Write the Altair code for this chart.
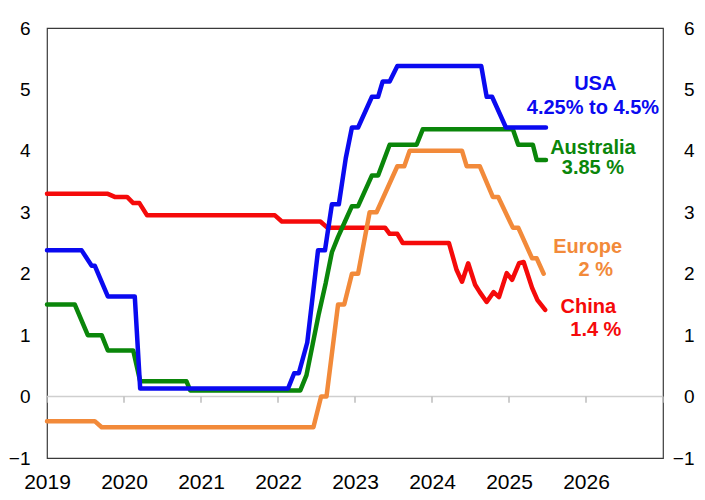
import altair as alt
import pandas as pd

# ---------------- data (decimal year, policy rate %) ----------------
usa_t = [2019.0, 2019.45, 2019.58, 2019.62, 2019.79, 2020.14, 2020.21, 2022.13, 2022.21,
         2022.27, 2022.38, 2022.52, 2022.61, 2022.70, 2022.79, 2022.88, 2022.96, 2023.04,
         2023.22, 2023.30, 2023.36, 2023.45, 2023.55, 2024.64, 2024.71, 2024.78, 2024.96, 2025.48]
usa_v = [2.38, 2.38, 2.13, 2.13, 1.63, 1.63, 0.13, 0.13, 0.38,
         0.38, 0.88, 2.38, 2.38, 3.13, 3.13, 3.88, 4.38, 4.38,
         4.88, 4.88, 5.13, 5.13, 5.38, 5.38, 4.88, 4.88, 4.38, 4.38]

aus_t = [2019.0, 2019.36, 2019.53, 2019.71, 2019.79, 2020.12, 2020.21, 2020.81, 2020.86,
         2022.29, 2022.37, 2022.45, 2022.53, 2022.62, 2022.70, 2022.78, 2022.87, 2022.96,
         2023.04, 2023.22, 2023.30, 2023.45, 2023.80, 2023.88, 2025.05, 2025.12, 2025.31,
         2025.36, 2025.48]
aus_v = [1.5, 1.5, 1.0, 1.0, 0.75, 0.75, 0.25, 0.25, 0.1,
         0.1, 0.35, 0.85, 1.35, 1.85, 2.35, 2.6, 2.85, 3.1,
         3.1, 3.6, 3.6, 4.1, 4.1, 4.35, 4.35, 4.1, 4.1,
         3.85, 3.85]

eur_t = [2019.0, 2019.62, 2019.71, 2022.46, 2022.56, 2022.63, 2022.78, 2022.86, 2022.96,
         2023.04, 2023.19, 2023.28, 2023.55, 2023.64, 2023.71, 2024.39, 2024.45, 2024.62,
         2024.79, 2024.86, 2025.05, 2025.12, 2025.30, 2025.36, 2025.45]
eur_v = [-0.4, -0.4, -0.5, -0.5, 0.0, 0.0, 1.5, 1.5, 2.0,
         2.0, 3.0, 3.0, 3.75, 3.75, 4.0, 4.0, 3.75, 3.75,
         3.25, 3.25, 2.75, 2.75, 2.25, 2.25, 2.0]

chn_t = [2019.0, 2019.79, 2019.88, 2020.04, 2020.12, 2020.20, 2020.30, 2021.96, 2022.05,
         2022.55, 2022.64, 2023.39, 2023.45, 2023.55, 2023.62, 2024.22, 2024.32, 2024.39,
         2024.47, 2024.56, 2024.62, 2024.71, 2024.80, 2024.87, 2024.97, 2025.04, 2025.13,
         2025.19, 2025.30, 2025.37, 2025.47]
chn_v = [3.3, 3.3, 3.25, 3.25, 3.15, 3.15, 2.95, 2.95, 2.85,
         2.85, 2.75, 2.75, 2.65, 2.65, 2.5, 2.5, 2.06, 1.87,
         2.17, 1.82, 1.70, 1.54, 1.70, 1.62, 2.01, 1.90, 2.17,
         2.19, 1.77, 1.57, 1.41]

series_names = ["China", "Europe", "Australia", "USA"]
series_colors = ["#f50a0a", "#f28a3a", "#0a860a", "#0a0af0"]

tick_years = [2019, 2020, 2021, 2022, 2023, 2024, 2025, 2026, 2027]
label_years = [2019, 2020, 2021, 2022, 2023, 2024, 2025, 2026]
y_ticks = [-1, 0, 1, 2, 3, 4, 5, 6]

ann_text = ["USA", "4.25% to 4.5%", "Australia", "3.85 %", "Europe", "2 %", "China", "1.4 %"]
ann_series = ["USA", "USA", "Australia", "Australia", "Europe", "Europe", "China", "China"]
ann_t = [2026.12, 2026.09, 2026.09, 2026.09, 2026.47, 2026.35, 2026.39, 2026.46]
ann_v = [5.09, 4.70, 4.05, 3.72, 2.43, 2.06, 1.46, 1.08]
ann_align = ["center", "center", "center", "center", "right", "right", "right", "right"]

# ---------------- build tables ----------------
rows = []
for name, ts, vs in [("USA", usa_t, usa_v), ("Australia", aus_t, aus_v),
                     ("Europe", eur_t, eur_v), ("China", chn_t, chn_v)]:
    for t, v in zip(ts, vs):
        rows.append({"series": name, "t": t, "v": v})
df = pd.DataFrame(rows)

ann_df = pd.DataFrame({"text": ann_text, "series": ann_series, "t": ann_t,
                       "v": ann_v, "align": ann_align})
ticks_df = pd.DataFrame({"t": tick_years, "v": [0] * len(tick_years),
                         "v2": [-0.1] * len(tick_years)})
zero_df = pd.DataFrame({"t": [2019], "t2": [2027], "v": [0]})

FONT = "Liberation Sans"
xscale = alt.Scale(domain=[2019, 2027], nice=False, zero=False)
yscale = alt.Scale(domain=[-1, 6], nice=False, zero=False)
cscale = alt.Scale(domain=series_names, range=series_colors)

x_axis = alt.Axis(values=label_years, format="d", title=None, domain=False, ticks=False,
                  grid=False, labelFontSize=21, labelPadding=13, labelFont=FONT,
                  labelColor="#000000", labelFlush=False, labelOverlap=False)
y_left = alt.Axis(values=y_ticks, title=None, domain=False, ticks=False, grid=False,
                  labelFontSize=19, labelPadding=17, labelFont=FONT, labelColor="#000000",
                  orient="left")
y_right = alt.Axis(values=y_ticks, title=None, domain=False, ticks=False, grid=False,
                   labelFontSize=19, labelPadding=31, labelFont=FONT, labelColor="#000000",
                   orient="right", labelAlign="right")

X = alt.X("t:Q", scale=xscale, axis=x_axis)

base = alt.Chart(df)
line_layers = []
for name in series_names:
    line_layers.append(
        base.transform_filter(alt.datum.series == name)
        .mark_line(strokeWidth=4.5, strokeJoin="round", strokeCap="round")
        .encode(
            x=X,
            y=alt.Y("v:Q", scale=yscale, axis=y_left),
            color=alt.Color("series:N", scale=cscale, legend=None),
        )
    )
lines = alt.layer(*line_layers)

zero_line = alt.Chart(zero_df).mark_rule(color="#cfcfcf", strokeWidth=1.5).encode(
    x=X,
    x2="t2:Q",
    y=alt.Y("v:Q", scale=yscale, axis=y_right),
)

ticks = alt.Chart(ticks_df).mark_rule(color="#bdbdbd", strokeWidth=1.5).encode(
    x=X,
    y=alt.Y("v:Q", scale=yscale, axis=None),
    y2="v2:Q",
)

text_layers = []
for al in ["center", "right"]:
    text_layers.append(
        alt.Chart(ann_df).transform_filter(alt.datum.align == al)
        .mark_text(font=FONT, fontSize=20, fontWeight="bold", align=al, baseline="middle")
        .encode(
            x=X,
            y=alt.Y("v:Q", scale=yscale, axis=None),
            text="text:N",
            color=alt.Color("series:N", scale=cscale, legend=None),
        )
    )

chart = alt.layer(zero_line, ticks, lines, *text_layers).resolve_axis(
    y="independent"
).properties(
    width=616,
    height=430,
    padding={"left": 39, "top": 20, "right": 34, "bottom": 34},
    autosize=alt.AutoSizeParams(type="none"),
    background="#ffffff",
).configure_view(stroke="#3a3a3a", strokeWidth=1.2)

chart.save("out.html", embed_options={"renderer": "svg", "actions": False})
